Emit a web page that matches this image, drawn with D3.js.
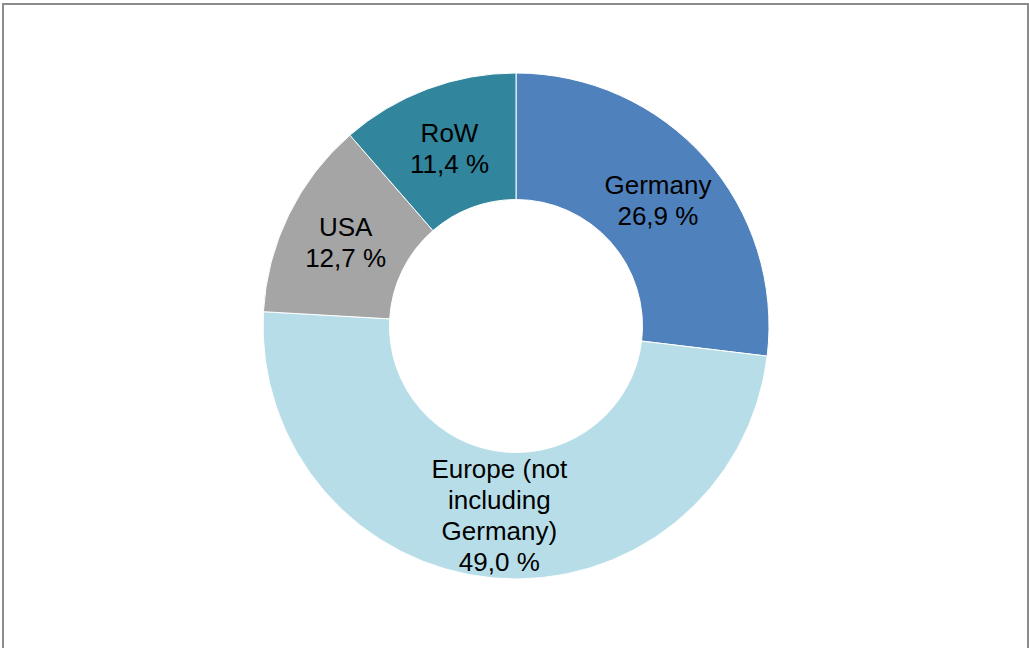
<!DOCTYPE html>
<html>
<head>
<meta charset="utf-8">
<script src="https://cdn.jsdelivr.net/npm/d3@7"></script>
<style>
  body { margin: 0; background: #fff; }
  svg { display: block; }
</style>
</head>
<body>
<svg id="chart"></svg>
<script>
// data
const categories = ["Germany", "Europe (not including Germany)", "USA", "RoW"];
const shares = [26.9, 49.0, 12.7, 11.4];
const colors = ["#4F81BD", "#B7DEE8", "#A5A5A5", "#31859C"];

const width = 1029, height = 648;
const cx = 516, cy = 326;
const outerR = 253, innerR = 126.5;

const svg = d3.select('#chart').attr('width', width).attr('height', height);

// chart frame (bottom edge runs off the picture)
svg.append('rect')
  .attr('x', 3).attr('y', 4)
  .attr('width', 1025).attr('height', 700)
  .attr('fill', 'none')
  .attr('stroke', '#8c8c8c')
  .attr('stroke-width', 2);

const pie = d3.pie().sort(null).value(d => d.value);
const arc = d3.arc().innerRadius(innerR).outerRadius(outerR);

const rows = categories.map((c, i) => ({ name: c, value: shares[i], color: colors[i] }));
const arcs = pie(rows);

const g = svg.append('g').attr('transform', `translate(${cx},${cy})`);

g.selectAll('path')
  .data(arcs)
  .join('path')
  .attr('d', arc)
  .attr('fill', d => d.data.color)
  .attr('stroke', '#fff')
  .attr('stroke-width', 1);

// labels: wrap name to a max width, then value line
const fontSize = 26, lineH = 31, maxW = 150;
const measure = svg.append('text')
  .attr('font-family', 'Liberation Sans, Arial, sans-serif')
  .attr('font-size', fontSize)
  .attr('visibility', 'hidden');

function wrap(str) {
  const words = str.split(' ');
  const lines = [];
  let cur = '';
  words.forEach(w => {
    const test = cur ? cur + ' ' + w : w;
    measure.text(test);
    if (cur && measure.node().getComputedTextLength() > maxW) {
      lines.push(cur);
      cur = w;
    } else {
      cur = test;
    }
  });
  if (cur) lines.push(cur);
  return lines;
}

const fmt = v => v.toFixed(1).replace('.', ',') + ' %';

arcs.forEach(d => {
  const [x, y] = arc.centroid(d);
  const lines = wrap(d.data.name).concat([fmt(d.data.value)]);
  const top = y - (lines.length - 1) * lineH / 2;
  const t = g.append('text')
    .attr('font-family', 'Liberation Sans, Arial, sans-serif')
    .attr('font-size', fontSize)
    .attr('fill', '#000')
    .attr('text-anchor', 'middle');
  lines.forEach((ln, i) => {
    t.append('tspan')
      .attr('x', x)
      .attr('y', top + i * lineH)
      .attr('dy', '0.35em')
      .text(ln);
  });
});

measure.remove();
</script>
</body>
</html>
